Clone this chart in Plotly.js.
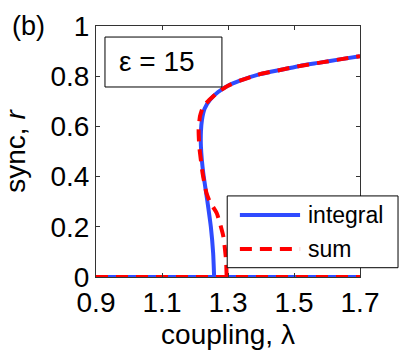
<!DOCTYPE html>
<html>
<head>
<meta charset="utf-8">
<script src="https://cdn.plot.ly/plotly-3.0.1.min.js"></script>
<style>
  body { margin: 0; background: #fff; }
  #chart { width: 399px; height: 355px; }
</style>
</head>
<body>
<div id="chart"></div>
<script>
// incoherent branch (r = 0), shared by both curves
let lamZero = [0.9, 1.7]
let rZero = [0, 0]

// integral (solid blue)
let lamInt = [1.258, 1.255, 1.248, 1.237, 1.225, 1.218, 1.218, 1.221, 1.229, 1.245, 1.27, 1.30, 1.336, 1.397, 1.458, 1.518, 1.579, 1.639, 1.70]
let rInt   = [0.000, 0.095, 0.200, 0.307, 0.414, 0.519, 0.580, 0.625, 0.670, 0.705, 0.737, 0.762, 0.782, 0.808, 0.825, 0.841, 0.854, 0.867, 0.880]

// sum (dashed red)
let lamSum = [1.296, 1.294, 1.286, 1.266, 1.245, 1.235, 1.223, 1.213, 1.211, 1.215, 1.225, 1.243, 1.27, 1.30, 1.336, 1.397, 1.458, 1.518, 1.579, 1.639, 1.70]
let rSum   = [0.000, 0.068, 0.161, 0.254, 0.300, 0.333, 0.414, 0.520, 0.586, 0.640, 0.680, 0.705, 0.737, 0.762, 0.782, 0.808, 0.825, 0.841, 0.854, 0.867, 0.880]

let xTicks = [0.9, 1.1, 1.3, 1.5, 1.7]
let yTicks = [0, 0.2, 0.4, 0.6, 0.8, 1]

let blue = '#2f4bff'
let red = '#ff0000'
let fnt = 'Liberation Sans, Arial, Helvetica, sans-serif'

// join the zero branch and the upper branch with a gap
function branch(xa, ya, xb, yb) {
    return {x: xa.concat([null], xb), y: ya.concat([null], yb)}
}

let integ = branch(lamZero, rZero, lamInt, rInt)
let summ = branch(lamZero, rZero, lamSum, rSum)

let data = [
    {x: integ.x, y: integ.y, mode: 'lines', name: 'integral', cliponaxis: false,
     line: {color: blue, width: 4, shape: 'spline', smoothing: 0.5}},
    {x: summ.x, y: summ.y, mode: 'lines', name: 'sum', cliponaxis: false,
     line: {color: red, width: 4, dash: '12px,8px', shape: 'spline', smoothing: 0.5}}
]

let axisCommon = {
    showgrid: false, zeroline: false, showline: true, mirror: 'ticks',
    linecolor: '#333', linewidth: 1, ticks: 'inside', ticklen: 4, tickcolor: '#333',
    tickfont: {family: fnt, size: 28, color: '#000'}
}

let layout = {
    width: 399, height: 355,
    margin: {l: 96, r: 39, t: 26, b: 78},
    paper_bgcolor: '#fff', plot_bgcolor: '#fff',
    showlegend: false,
    font: {family: fnt, color: '#000'},
    xaxis: Object.assign({}, axisCommon, {
        range: [0.9, 1.7], tickvals: xTicks, ticktext: xTicks.map(v => v.toFixed(1)),
        title: {text: 'coupling, λ', font: {family: fnt, size: 28}, standoff: 7}
    }),
    yaxis: Object.assign({}, axisCommon, {
        range: [0, 1], tickvals: yTicks, ticktext: yTicks.map(v => String(v)),
        title: {text: 'sync, <i>r</i>', font: {family: fnt, size: 28}, standoff: 17}
    }),
    shapes: [
        // epsilon box
        {type: 'rect', xref: 'paper', yref: 'paper', x0: 0.034, x1: 0.477, y0: 0.757, y1: 0.956,
         line: {color: '#000', width: 1}, fillcolor: '#fff'},
        // legend box
        {type: 'rect', xref: 'paper', yref: 'paper', x0: 0.497, x1: 1.144, y0: 0.037, y1: 0.323,
         line: {color: '#000', width: 1}, fillcolor: '#fff'},
        {type: 'line', xref: 'paper', yref: 'paper', x0: 0.545, x1: 0.773, y0: 0.247, y1: 0.247,
         line: {color: blue, width: 4}},
        {type: 'line', xref: 'paper', yref: 'paper', x0: 0.545, x1: 0.773, y0: 0.112, y1: 0.112,
         line: {color: red, width: 4, dash: '12px,8px'}}
    ],
    annotations: [
        {text: 'ε = 15', xref: 'paper', yref: 'paper', x: 0.232, y: 0.857,
         xanchor: 'center', yanchor: 'middle', showarrow: false,
         font: {family: fnt, size: 28, color: '#000'}},
        {text: 'integral', xref: 'paper', yref: 'paper', x: 0.795, y: 0.247,
         xanchor: 'left', yanchor: 'middle', showarrow: false,
         font: {family: fnt, size: 23, color: '#000'}},
        {text: 'sum', xref: 'paper', yref: 'paper', x: 0.795, y: 0.112,
         xanchor: 'left', yanchor: 'middle', showarrow: false,
         font: {family: fnt, size: 23, color: '#000'}},
        {text: '(b)', xref: 'paper', yref: 'paper', x: -0.257, y: 1.0,
         xanchor: 'center', yanchor: 'middle', showarrow: false,
         font: {family: fnt, size: 27, color: '#000'}}
    ]
}

Plotly.newPlot('chart', data, layout, {staticPlot: true})
</script>
</body>
</html>
